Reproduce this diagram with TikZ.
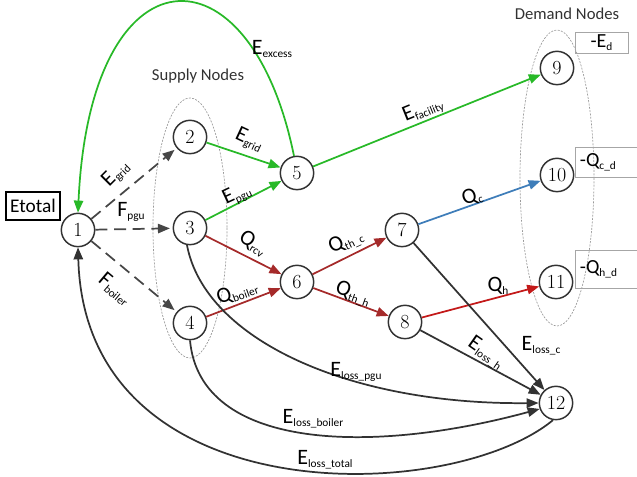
\documentclass[tikz,border=0pt]{standalone}
\usepackage{fontspec}
\setsansfont{Carlito}
\usetikzlibrary{arrows.meta}
\definecolor{cgreen}{RGB}{40,185,40}
\definecolor{cdred}{RGB}{165,42,42}
\definecolor{cred}{RGB}{195,25,25}
\definecolor{cblue}{RGB}{62,125,185}
\definecolor{cdark}{RGB}{50,50,50}
\definecolor{cdash}{RGB}{70,70,70}
\newcommand\Lb[2]{#1\raisebox{-0.3ex}{\fontsize{8.5}{9}\selectfont #2}}
\begin{document}
\begin{tikzpicture}[x=0.75pt,y=-0.75pt,
  num/.style={circle,draw=cdark,line width=1.1pt,minimum size=25pt,inner sep=0pt,fill=white,font=\fontsize{15}{15}\selectfont},
  lbl/.style={font=\sffamily\fontsize{16.5}{16.5}\selectfont,inner sep=0pt,text=black},
  hdr/.style={font=\sffamily\fontsize{12.5}{13}\selectfont,text=cdark,inner sep=0pt},
  dbox/.style={draw=black!35,line width=0.6pt,font=\sffamily\fontsize{15}{15}\selectfont,inner sep=0pt},
  grp/.style={draw=black!40,line width=0.5pt,dash pattern=on 1.5pt off 1pt},
  tip/.style={-{Triangle[length=9pt,width=7pt]},line width=1.3pt},
  dsh/.style={tip,draw=cdash,dash pattern=on 9pt off 5pt,shorten >=2pt},
  gr/.style={tip,draw=cgreen},
  rd/.style={tip,draw=cdred},
  rb/.style={tip,draw=cred},
  bl/.style={tip,draw=cblue},
  dk/.style={tip,draw=cdark}
]
\useasboundingbox (0,0) rectangle (637,477);

% group ellipses
\draw[grp] (190,228) ellipse [x radius=37, y radius=130];
\draw[grp] (557,178) ellipse [x radius=37, y radius=148];
\node[hdr] (hsup) at (198,76) {Supply Nodes};
\node[hdr] (hdem) at (567,14) {Demand Nodes};

% nodes
\node[num] (n1) at (78,230) {1};
\node[num] (n2) at (190,137) {2};
\node[num] (n3) at (190,228) {3};
\node[num] (n4) at (190,323) {4};
\node[num] (n5) at (297,173) {5};
\node[num] (n6) at (297,282) {6};
\node[num] (n7) at (402,230) {7};
\node[num] (n8) at (405,322) {8};
\node[num] (n9) at (557,68) {9};
\node[num] (n10) at (557,175) {10};
\node[num] (n11) at (556,282) {11};
\node[num] (n12) at (556,403) {12};

% boxes
\node[draw=black,line width=1.1pt,font=\sffamily\fontsize{14.5}{14.5}\selectfont,minimum width=40.5pt,minimum height=21pt,inner sep=0pt] (etot) at (33,206) {Etotal};
\node[dbox,minimum width=39.75pt,minimum height=15.75pt] (bEd) at (601.5,42.5) {-\Lb{E}{d}};
\node[dbox,minimum width=48.75pt,minimum height=22.5pt,anchor=west,text width=46pt,align=left] (bQc) at (575,162) {\hspace{2pt}-\Lb{Q}{c\_d}};
\node[dbox,minimum width=48.75pt,minimum height=28.5pt,anchor=west,text width=46pt,align=left] (bQh) at (575,269) {\hspace{2pt}-\Lb{Q}{h\_d}};

% dashed supply edges
\draw[dsh] (n1) -- (n2);
\draw[dsh] (n1) -- (n3);
\draw[dsh] (n1) -- (n4);

% green edges
\draw[gr] (n2) -- (n5);
\draw[gr] (n3) -- (n5);
\draw[gr] (n5) -- (n9);
\draw[gr] (n5.100) .. controls (250,-60) and (90,-55) .. (n1.north);

% red edges
\draw[rd] (n3) -- (n6);
\draw[rd] (n4) -- (n6);
\draw[rd] (n6) -- (n7);
\draw[rd] (n6) -- (n8);
\draw[rb] (n8) -- (n11);

% blue
\draw[bl] (n7) -- (n10);

% losses
\draw[dk] (n7) -- (n12);
\draw[dk] (n8) -- (n12);
\draw[dk] (n3.-100) .. controls (205,340) and (350,405) .. (n12.west);
\draw[dk] (n4.south) .. controls (200,450) and (370,455) .. (n12.200);
\draw[dk] (n12.-100) .. controls (450,505) and (85,515) .. (n1.south);

% labels
\node[lbl] (lex) at (272,49) {\Lb{E}{excess}};
\node[lbl,rotate=45] (lg1) at (116,174) {\Lb{E}{grid}};
\node[lbl] (lfp) at (131,212) {\Lb{F}{pgu}};
\node[lbl,rotate=-40] (lfb) at (115,289) {\Lb{F}{boiler}};
\node[lbl,rotate=-25] (lg2) at (249,140) {\Lb{E}{grid}};
\node[lbl,rotate=25] (lep) at (237,195) {\Lb{E}{pgu}};
\node[lbl,rotate=-32] (lqr) at (253,243) {\Lb{Q}{rcv}};
\node[lbl,rotate=20] (lqb) at (237,292) {\Lb{Q}{boiler}};
\node[lbl,rotate=25] (lqtc) at (346,242) {\Lb{Q}{th\_c}};
\node[lbl,rotate=-20] (lqth) at (353,294) {\Lb{Q}{th\_h}};
\node[lbl,rotate=22] (lef) at (423,110) {\Lb{E}{facility}};
\node[lbl,rotate=20] (lqc) at (472,197) {\Lb{Q}{c}};
\node[lbl] (lqh) at (498,286) {\Lb{Q}{h}};
\node[lbl] (llc) at (541,346) {\Lb{E}{loss\_c}};
\node[lbl,rotate=-35] (llh) at (486,353) {\Lb{E}{loss\_h}};
\node[lbl] (llp) at (356,372) {\Lb{E}{loss\_pgu}};
\node[lbl] (llb) at (313,419) {\Lb{E}{loss\_boiler}};
\node[lbl] (llt) at (325,460) {\Lb{E}{loss\_total}};
\end{tikzpicture}
\end{document}
